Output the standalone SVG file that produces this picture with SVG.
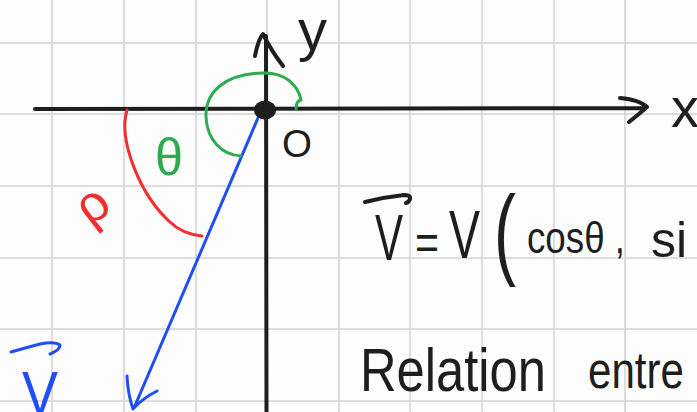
<svg xmlns="http://www.w3.org/2000/svg" width="697" height="412" viewBox="0 0 697 412">
<style>
.grid line{stroke:#d2d2d2;stroke-width:1.5}
.ink{fill:none;stroke:#1e1e1e;stroke-width:4;stroke-linecap:round;stroke-linejoin:round}
.blue{fill:none;stroke:#1f4ef5;stroke-width:3;stroke-linecap:round;stroke-linejoin:round}
.green{fill:none;stroke:#2eaa50;stroke-width:3;stroke-linecap:round;stroke-linejoin:round}
.red{fill:none;stroke:#f22d2d;stroke-width:3;stroke-linecap:round;stroke-linejoin:round}
.t{font-family:"Liberation Sans","DejaVu Sans",sans-serif;fill:#1e1e1e}
.tb{font-family:"Liberation Sans","DejaVu Sans",sans-serif;fill:#1f4ef5}
.tg{font-family:"Liberation Sans","DejaVu Sans",sans-serif;fill:#2eaa50}
.tr{font-family:"Liberation Sans","DejaVu Sans",sans-serif;fill:#f22d2d}
</style>
<rect width="697" height="412" fill="#fdfdfd"/>
<g class="grid">
<line x1="52" y1="0" x2="52" y2="412"/><line x1="124" y1="0" x2="124" y2="412"/><line x1="196" y1="0" x2="196" y2="412"/><line x1="267" y1="0" x2="267" y2="412"/><line x1="339" y1="0" x2="339" y2="412"/><line x1="410" y1="0" x2="410" y2="412"/><line x1="482" y1="0" x2="482" y2="412"/><line x1="554" y1="0" x2="554" y2="412"/><line x1="625" y1="0" x2="625" y2="412"/>
<line x1="0" y1="43" x2="697" y2="43"/><line x1="0" y1="114" x2="697" y2="114"/><line x1="0" y1="186" x2="697" y2="186"/><line x1="0" y1="258" x2="697" y2="258"/><line x1="0" y1="329" x2="697" y2="329"/><line x1="0" y1="401" x2="697" y2="401"/>
</g>
<g id="connectors">
<path id="x-axis" class="ink" d="M35 109 L645 108 M620 98 Q640 100 647 107 Q638 115 629 122"/>
<path id="y-axis" class="ink" d="M266.5 412 L266 36 M255 56 Q258 40 263 34 Q272 52 283 66"/>
<path id="vector" class="blue" d="M258 118 L134 408 M127 376 Q128 395 133 409 Q143 398 157 391"/>
<path id="theta-arc" class="green" d="M296 109 Q296 101 301 100 C298 85 285 72 262 73 C225 74 205 92 206 117 C207 140 222 155 241 156"/>
<path id="rho-arc" class="red" d="M127 110 C118 140 140 195 170 222 C180 232 193 235 202 236"/>
</g>
<g id="origin">
<ellipse cx="265" cy="110" rx="11" ry="9.5" fill="#1e1e1e"/>
<text class="t" x="282" y="157" font-size="38" textLength="30" lengthAdjust="spacingAndGlyphs">O</text>
</g>
<g id="label-y"><text class="t" x="298" y="50" font-size="58">y</text></g>
<g id="label-x"><text class="t" x="671" y="127" font-size="56">x</text></g>
<g id="label-theta"><text class="tg" x="155" y="175" font-size="52" textLength="28" lengthAdjust="spacingAndGlyphs">θ</text></g>
<g id="label-rho"><text class="tr" transform="translate(98,214) rotate(-38)" x="-14" y="6" font-size="52">ρ</text></g>
<g id="label-v">
<path class="blue" d="M11 352 Q25 348 40 344 Q55 341 60 345 Q60 350 50 354"/>
<text class="tb" x="22" y="414" font-size="62" textLength="36" lengthAdjust="spacingAndGlyphs">V</text>
</g>
<g id="equation">
<path class="ink" d="M365 202 Q385 197 404 195 Q411 195 410 199 Q409 202 406 203"/>
<text class="t" x="375" y="260" font-size="64" textLength="28" lengthAdjust="spacingAndGlyphs">V</text>
<text class="t" x="415" y="259" font-size="50" textLength="24" lengthAdjust="spacingAndGlyphs">=</text>
<text class="t" x="449" y="258" font-size="68" textLength="31" lengthAdjust="spacingAndGlyphs">V</text>
<text class="t" x="494" y="266" font-size="100" textLength="22" lengthAdjust="spacingAndGlyphs">(</text>
<text class="t" x="527" y="253" font-size="44" textLength="98" lengthAdjust="spacingAndGlyphs">cosθ ,</text>
<text class="t" x="651" y="257" font-size="50">si</text>
</g>
<g id="relation">
<text class="t" x="360" y="391" font-size="62" textLength="186" lengthAdjust="spacingAndGlyphs">Relation</text>
<text class="t" x="588" y="388" font-size="52" textLength="96" lengthAdjust="spacingAndGlyphs">entre</text>
</g>
</svg>
